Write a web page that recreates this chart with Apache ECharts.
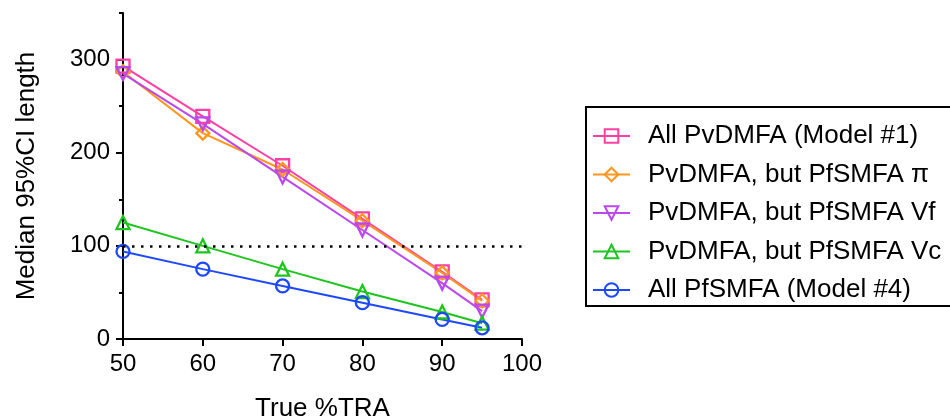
<!DOCTYPE html>
<html>
<head>
<meta charset="utf-8">
<script src="https://cdn.jsdelivr.net/npm/echarts@6/dist/echarts.min.js"></script>
<style>html,body{margin:0;padding:0;background:#fff;}#c{width:950px;height:419px;}</style>
</head>
<body>
<div id="c"></div>
<script>
const xValues = [50, 60, 70, 80, 90, 95];
const seriesNames = [
  'All PvDMFA (Model #1)',
  'PvDMFA, but PfSMFA \u03c0',
  'PvDMFA, but PfSMFA Vf',
  'PvDMFA, but PfSMFA Vc',
  'All PfSMFA (Model #4)'
];
const model1 = [293, 239, 186, 129, 72, 42];
const pfPi = [287, 221, 182, 127, 71, 41];
const pfVf = [285, 231, 174, 117, 60, 30];
const pfVc = [125, 100, 75, 51, 29, 17];
const model4 = [94, 75, 57, 39, 21, 12];
const yTicks = [0, 100, 200, 300];
const refLevel = 100;

const FONT = "'Liberation Sans', Arial, Helvetica, sans-serif";
const colors = ['#ff3fa4', '#ff961e', '#bb48ee', '#1fc41f', '#1e48ff'];
const symbols = ['rect', 'diamond', 'triangle', 'triangle', 'circle'];
const rotates = [0, 0, 180, 0, 0];
const sizes = [13, 13, 13, 13, 13];
const allData = [model1, pfPi, pfVf, pfVc, model4];

const series = allData.map((vals, i) => ({
  name: seriesNames[i],
  type: 'line',
  data: xValues.map((x, j) => [x, vals[j]]),
  symbol: symbols[i],
  symbolRotate: rotates[i],
  symbolSize: sizes[i],
  lineStyle: { color: colors[i], width: 2 },
  itemStyle: { color: 'rgba(255,255,255,0)', borderColor: colors[i], borderWidth: 2.3 },
  emphasis: { disabled: true },
  z: 3
}));
series.push({
  type: 'line',
  data: [],
  silent: true,
  markLine: {
    silent: true,
    symbol: 'none',
    label: { show: false },
    lineStyle: { color: '#000', type: [2.5, 6.5], width: 2.5 },
    data: [[{ coord: [50, refLevel] }, { coord: [100, refLevel] }]]
  }
});

const chart = echarts.init(document.getElementById('c'));
chart.setOption({
  animation: false,
  backgroundColor: '#fff',
  textStyle: { fontFamily: FONT },
  grid: { left: 123, right: 428, top: 13, bottom: 80, containLabel: false, outerBoundsMode: 'none' },
  graphic: [{
    type: 'rect',
    silent: true,
    shape: { x: 586, y: 107, width: 420, height: 199 },
    style: { fill: 'none', stroke: '#000', lineWidth: 2 },
    z: 10
  }],
  legend: {
    orient: 'vertical',
    left: 585,
    top: 106,
    data: seriesNames,
    itemWidth: 37,
    itemHeight: 17,
    itemGap: 12.5,
    padding: [17, 5, 1, 7],
    textStyle: { fontFamily: FONT, fontSize: 26, color: '#000', lineHeight: 26, padding: [0, 0, 0, 13] }
  },
  xAxis: {
    type: 'value',
    min: 50, max: 100, interval: 10,
    name: 'True %TRA',
    nameLocation: 'middle',
    nameGap: 57,
    nameTextStyle: { fontSize: 26, color: '#000', fontFamily: FONT },
    axisLine: { show: true, onZero: false, lineStyle: { color: '#000', width: 2 } },
    axisTick: { show: true, length: 7, lineStyle: { color: '#000', width: 2 } },
    axisLabel: { fontSize: 24, color: '#000', margin: 13, fontFamily: FONT },
    splitLine: { show: false }
  },
  yAxis: [{
    type: 'value',
    position: 'left',
    offset: 0,
    min: 0, max: 350, interval: 100,
    name: 'Median 95%CI length',
    nameLocation: 'middle',
    nameGap: 83,
    nameTextStyle: { fontSize: 26, color: '#000', fontFamily: FONT },
    axisLine: { show: true, onZero: false, lineStyle: { color: '#000', width: 2 } },
    axisTick: { show: true, length: 7, customValues: yTicks, lineStyle: { color: '#000', width: 2 } },
    axisLabel: { fontSize: 24, color: '#000', margin: 13, customValues: yTicks, fontFamily: FONT },
    splitLine: { show: false }
  }, {
    type: 'value',
    position: 'left',
    offset: 0,
    min: 0, max: 350, interval: 50,
    axisLine: { show: false, onZero: false },
    axisTick: { show: true, length: 4, lineStyle: { color: '#000', width: 2 } },
    axisLabel: { show: false },
    splitLine: { show: false }
  }],
  series: series
});
</script>
</body>
</html>
